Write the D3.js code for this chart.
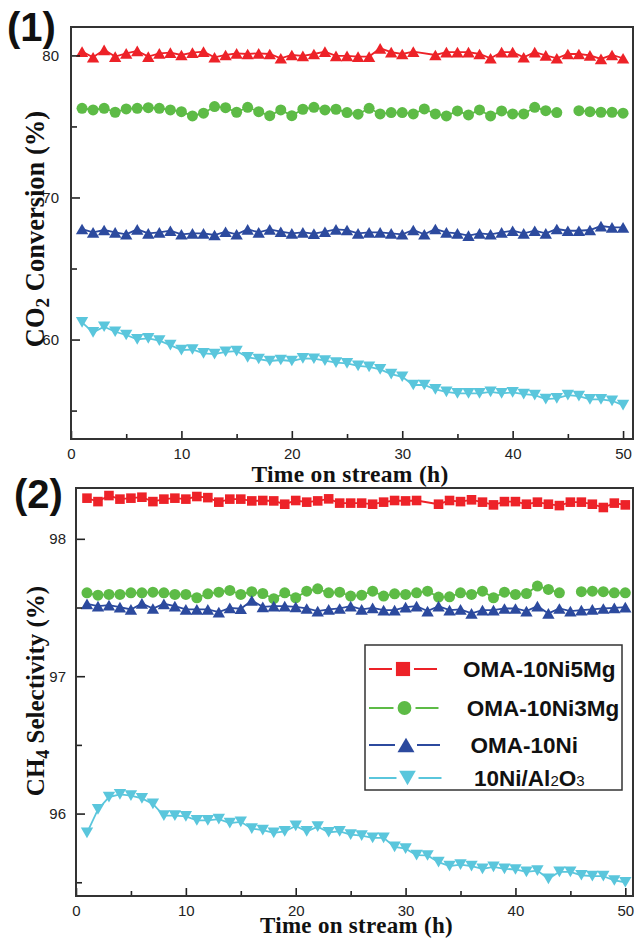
<!DOCTYPE html>
<html><head><meta charset="utf-8">
<script src="https://cdn.jsdelivr.net/npm/d3@7"></script>
<style>body{margin:0;background:#fff}svg{display:block}</style>
</head><body>
<script>
// ---------------- DATA ----------------
const hours = [1,2,3,4,5,6,7,8,9,10,11,12,13,14,15,16,17,18,19,20,21,22,23,24,25,26,27,28,29,30,31,32,33,34,35,36,37,38,39,40,41,42,43,44,45,46,47,48,49,50];
const seriesNames = ["OMA-10Ni5Mg", "OMA-10Ni3Mg", "OMA-10Ni", "10Ni/Al2O3"];

// Panel (1): CO2 conversion (%)
const co2_OMA10Ni5Mg = [80.27,79.87,80.39,79.92,80.15,80.32,79.92,80.15,80.2,80.03, 80.2,80.27,79.87,80.03,80.15,80.1,80.15,80.1,79.8,80.03, 79.97,80.1,80.27,79.97,79.97,79.92,79.92,80.5,80.23,80.1, 80.27,null,80.03,80.23,80.23,80.23,80.1,79.8,80.23,80.23, 79.87,80.23,80.0,79.8,80.1,80.1,80.0,79.75,80.03,79.8];
const co2_OMA10Ni3Mg = [76.28,76.16,76.28,76.0,76.23,76.28,76.32,76.28,76.16,76.04, 75.74,75.93,76.4,76.32,76.0,76.35,76.04,75.76,76.16,75.76, 76.21,76.35,76.16,76.21,75.98,75.86,76.28,75.88,75.98,75.98, 75.88,76.23,75.88,75.74,76.09,75.81,76.16,75.74,76.09,75.88, 75.88,76.35,76.11,75.98,null,76.11,76.04,76.0,76.0,75.93];
const co2_OMA10Ni = [67.78,67.55,67.71,67.55,67.41,67.76,67.48,67.55,67.66,67.41, 67.48,67.48,67.36,67.59,67.41,67.76,67.55,67.76,67.59,67.48, 67.55,67.45,67.59,67.76,67.71,67.48,67.55,67.55,67.48,67.41, 67.71,67.41,67.78,67.55,67.48,67.31,67.48,67.41,67.55,67.66, 67.48,67.66,67.48,67.78,67.66,67.66,67.71,67.99,67.9,67.9];
const co2_10NiAl2O3 = [61.21,60.51,60.9,60.55,60.32,60.01,60.08,59.92,59.61,59.26, 59.3,59.03,58.98,59.14,59.19,58.75,58.63,58.49,58.56,58.49, 58.68,58.65,58.51,58.37,58.32,58.15,58.08,57.9,57.57,57.38, 56.8,56.8,56.49,56.32,56.21,56.21,56.21,56.32,56.21,56.28, 56.16,56.09,55.81,55.86,56.09,56.02,55.79,55.79,55.69,55.39];

// Panel (2): CH4 selectivity (%)
const ch4_OMA10Ni5Mg = [98.296,98.271,98.315,98.289,98.296,98.303,98.271,98.289,98.296,98.289, 98.308,98.3,98.267,98.289,98.289,98.276,98.279,98.276,98.252,98.279, 98.267,98.276,98.291,98.26,98.26,98.26,98.252,98.267,98.279,98.276, 98.279,null,98.252,98.279,98.271,98.284,98.267,98.247,98.271,98.271, 98.252,98.267,98.252,98.242,98.267,98.267,98.252,98.228,98.26,98.247];
const ch4_OMA10Ni3Mg = [97.607,97.59,97.595,97.595,97.607,97.607,97.612,97.607,97.595,97.595, 97.571,97.6,97.612,97.624,97.595,97.615,97.602,97.564,97.607,97.571, 97.619,97.636,97.607,97.612,97.583,97.59,97.619,97.583,97.6,97.595, 97.607,97.619,97.576,97.578,97.607,97.595,97.619,97.571,97.612,97.595, 97.602,97.656,97.632,97.607,null,97.615,97.619,97.615,97.607,97.607];
const ch4_OMA10Ni = [97.527,97.51,97.518,97.503,97.486,97.53,97.493,97.527,97.51,97.486, 97.486,97.486,97.467,97.498,97.491,97.551,97.505,97.51,97.51,97.505, 97.493,97.474,97.486,97.493,97.51,97.486,97.498,97.481,97.481,97.503, 97.51,97.474,97.51,97.481,97.486,97.457,97.481,97.481,97.493,97.493, 97.474,97.51,97.457,97.493,97.474,97.481,97.486,97.493,97.498,97.503];
const ch4_10NiAl2O3 = [95.86,96.03,96.12,96.14,96.13,96.11,96.07,95.985,95.985,95.98, 95.95,95.95,95.96,95.93,95.94,95.89,95.88,95.86,95.87,95.91, 95.87,95.905,95.864,95.871,95.847,95.84,95.823,95.823,95.758,95.745, 95.697,95.695,95.646,95.617,95.629,95.617,95.598,95.612,95.598,95.593, 95.576,95.585,95.525,95.576,95.576,95.551,95.544,95.544,95.513,95.5];

// Axis ticks
const xMajorTicks = [0,10,20,30,40,50];
const xMinorTicks = [5,15,25,35,45];
const co2MajorTicks = [60,70,80];
const co2MinorTicks = [55,65,75];
const ch4MajorTicks = [96,97,98];
const ch4MinorTicks = [95.5,96.5,97.5];

// ---------------- STYLE ----------------
const colors = ["#ED2228", "#5DBB46", "#2C4A9E", "#5AC6DC"];
const bridgeGaps = [true, false, false, false];
const W = 635, H = 938;
const tickFont = "'Liberation Sans', Arial, sans-serif";
const titleFont = "'Liberation Serif', 'Times New Roman', serif";

const svg = d3.select("body").append("svg").attr("width", W).attr("height", H);

function symbolPath(type, size) {
  if (type === "circle") return d3.symbol(d3.symbolCircle, size)();
  if (type === "square") return d3.symbol(d3.symbolSquare, size)();
  return d3.symbol(d3.symbolTriangle, size)();
}
function symbolTransform(type, size) {
  const h = Math.sqrt(size / (Math.sqrt(3) * 3)) / 2;
  if (type === "triangle") return `translate(0,${h})`;
  if (type === "triangleDown") return `translate(0,${-h}) rotate(180)`;
  return "";
}
const symbolSize = {circle: 95, square: 92, triangle: 66, triangleDown: 66};

function drawPanel(o) {
  const g = svg.append("g");
  const x = d3.scaleLinear().domain(o.xDomain).range([o.left, o.right]);
  const y = d3.scaleLinear().domain(o.yDomain).range([o.bottom, o.top]);

  o.series.forEach((vals, i) => {
    const pts = hours.map((h, k) => ({h, v: vals[k]}));
    const line = d3.line().x(d => x(d.h)).y(d => y(d.v));
    let lineData = pts;
    if (bridgeGaps[i]) lineData = pts.filter(d => d.v != null);
    else line.defined(d => d.v != null);
    g.append("path").attr("d", line(lineData)).attr("fill", "none")
      .attr("stroke", colors[i]).attr("stroke-width", 1.8);
    const sym = o.symbols[i];
    const sz = symbolSize[sym];
    g.append("g").selectAll("path").data(pts.filter(d => d.v != null)).join("path")
      .attr("transform", d => `translate(${x(d.h)},${y(d.v)}) ${symbolTransform(sym, sz)}`)
      .attr("d", symbolPath(sym, sz))
      .attr("fill", colors[i]);
  });

  const yAx = g.append("g").attr("transform", `translate(${o.left},0)`)
    .call(d3.axisLeft(y).tickValues(o.yMajor).tickSize(-9).tickPadding(o.yPad).tickFormat(d3.format("d")));
  const yAxMin = g.append("g").attr("transform", `translate(${o.left},0)`)
    .call(d3.axisLeft(y).tickValues(o.yMinor).tickSize(-6).tickFormat(""));
  const xAx = g.append("g").attr("transform", `translate(0,${o.bottom})`)
    .call(d3.axisBottom(x).tickValues(xMajorTicks).tickSize(-8).tickPadding(o.xPad).tickFormat(d3.format("d")));
  const xAxMin = g.append("g").attr("transform", `translate(0,${o.bottom})`)
    .call(d3.axisBottom(x).tickValues(xMinorTicks).tickSize(-5).tickFormat(""));
  [yAx, yAxMin, xAx, xAxMin].forEach(a => {
    a.select(".domain").remove();
    a.selectAll("line").attr("stroke", "#222").attr("stroke-width", 1.6);
    a.selectAll("text").attr("font-family", tickFont).attr("font-size", 15).attr("fill", "#222");
  });

  g.append("rect").attr("x", o.left).attr("y", o.top)
    .attr("width", o.right - o.left).attr("height", o.bottom - o.top)
    .attr("fill", "none").attr("stroke", "#333").attr("stroke-width", 2);

  g.append("text").attr("x", (o.left + o.right) / 2 + o.xTitleDx).attr("y", o.xTitleY)
    .attr("text-anchor", "middle").attr("font-family", titleFont).attr("font-weight", "bold")
    .attr("font-size", o.xTitleSize).attr("letter-spacing", 0.3).attr("fill", "#111").text("Time on stream (h)");

  const yt = g.append("text")
    .attr("transform", `translate(${o.yTitleX},${o.yTitleY}) rotate(-90)`)
    .attr("text-anchor", "middle").attr("font-family", titleFont).attr("font-weight", "bold")
    .attr("font-size", o.yTitleSize).attr("fill", "#111");
  yt.append("tspan").text(o.yTitle[0]);
  yt.append("tspan").attr("font-size", o.yTitleSize * 0.72).attr("dy", 5).text(o.yTitle[1]);
  yt.append("tspan").attr("dy", -5).text(o.yTitle[2]);

  g.append("text").attr("x", o.labelX).attr("y", o.labelY)
    .attr("font-family", tickFont).attr("font-weight", "bold").attr("font-size", 40)
    .attr("fill", "#111").text(o.label);

  return {x, y, g};
}

drawPanel({
  left: 71, right: 633, top: 27, bottom: 439,
  xDomain: [0, 50.9], yDomain: [53, 82],
  series: [co2_OMA10Ni5Mg, co2_OMA10Ni3Mg, co2_OMA10Ni, co2_10NiAl2O3],
  symbols: ["triangle", "circle", "triangle", "triangleDown"],
  yMajor: co2MajorTicks, yMinor: co2MinorTicks, yPad: 12, xPad: 9,
  xTitleY: 482, xTitleDx: -2, xTitleSize: 23.5,
  yTitle: ["CO", "2", " Conversion (%)"], yTitleX: 44, yTitleY: 229, yTitleSize: 26.5,
  label: "(1)", labelX: 7, labelY: 41
});

drawPanel({
  left: 76, right: 633, top: 488, bottom: 896,
  xDomain: [0, 50.7], yDomain: [95.40, 98.37],
  series: [ch4_OMA10Ni5Mg, ch4_OMA10Ni3Mg, ch4_OMA10Ni, ch4_10NiAl2O3],
  symbols: ["square", "circle", "triangle", "triangleDown"],
  yMajor: ch4MajorTicks, yMinor: ch4MinorTicks, yPad: 10, xPad: 9,
  xTitleY: 933, xTitleDx: 2, xTitleSize: 23,
  yTitle: ["CH", "4", " Selectivity (%)"], yTitleX: 44, yTitleY: 691, yTitleSize: 25,
  label: "(2)", labelX: 14, labelY: 508
});

// ---------------- LEGEND ----------------
const leg = svg.append("g");
leg.append("rect").attr("x", 365).attr("y", 645).attr("width", 257).attr("height", 145)
  .attr("fill", "#fff").attr("stroke", "#333").attr("stroke-width", 1.5);
const rowY = [669, 708, 745, 778];
const legSymbols = ["square", "circle", "triangle", "triangleDown"];
const legSizes = [200, 150, 125, 120];
seriesNames.forEach((name, i) => {
  const cy = rowY[i];
  const mx = 403 + i * 1.5;
  leg.append("line").attr("x1", 369).attr("x2", mx - 11).attr("y1", cy).attr("y2", cy)
    .attr("stroke", colors[i]).attr("stroke-width", 2);
  leg.append("line").attr("x1", mx + 11).attr("x2", mx + 34).attr("y1", cy).attr("y2", cy)
    .attr("stroke", colors[i]).attr("stroke-width", 2);
  const sym = legSymbols[i], sz = legSizes[i];
  leg.append("path").attr("transform", `translate(${mx},${cy}) ${symbolTransform(sym, sz)}`)
    .attr("d", symbolPath(sym, sz)).attr("fill", colors[i]);
  const t = leg.append("text").attr("x", 463 + i * 3.7).attr("y", cy + 8)
    .attr("font-family", tickFont).attr("font-weight", "bold").attr("font-size", 22.5).attr("fill", "#111");
  const parts = name.match(/Al2O3/) ? ["10Ni/Al", "2", "O", "3"] : [name];
  parts.forEach((p, k) => {
    const ts = t.append("tspan").text(p);
    if (parts.length > 1 && (k === 1 || k === 3)) ts.attr("font-size", 15).attr("font-weight", "normal");
  });
});
</script>
</body></html>
